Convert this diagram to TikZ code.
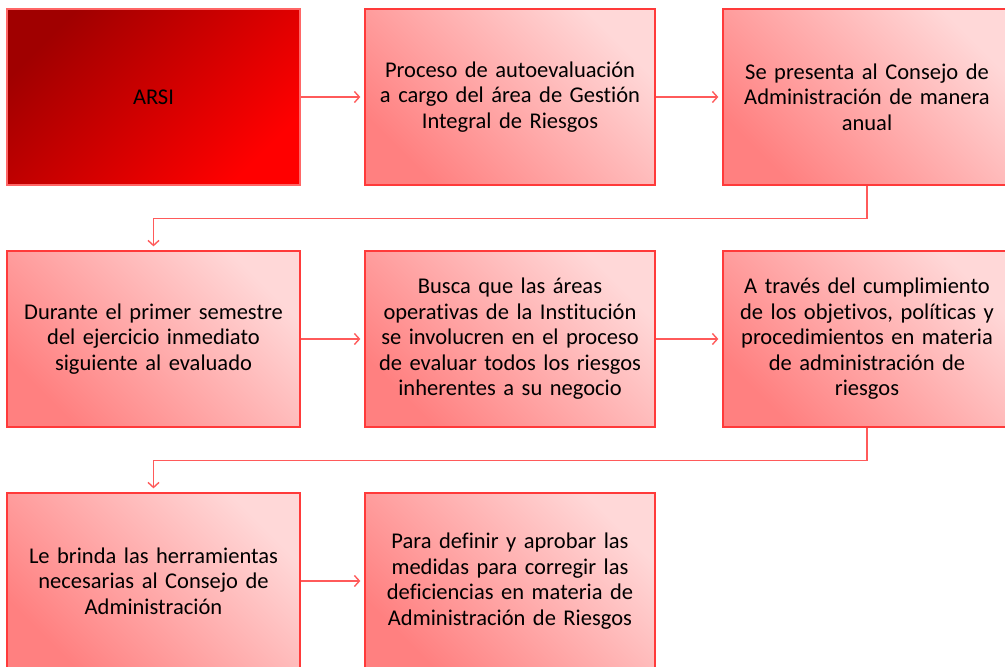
\documentclass[tikz,border=0pt]{standalone}
\usepackage{fontspec}
\setmainfont{Carlito}[Ligatures={NoCommon}]
\usetikzlibrary{arrows.meta}
\definecolor{bord}{HTML}{FF3A3A}
\definecolor{conncol}{HTML}{FF5A5A}
\definecolor{lightc}{HTML}{FFD8D8}
\definecolor{darkc}{HTML}{FF8080}
\definecolor{deepred}{HTML}{A00000}
\definecolor{brightred}{HTML}{FF0000}
\begin{document}
\begin{tikzpicture}[x=1pt,y=-1pt,
  basebox/.style={draw=bord, line width=1.3pt, minimum height=176pt, inner sep=0pt,
    align=center, text width=282pt, font=\fontsize{22.5}{25.5}\selectfont},
  pinkbox/.style={basebox, top color=lightc, bottom color=darkc, shading angle=-45},
  redbox/.style={basebox, draw=brightred!60, top color=deepred, bottom color=brightred, shading angle=45},
  conn/.style={draw=conncol, line width=1.4pt, -{Straight Barb[length=5pt,width=11pt]}, shorten >=4pt}
]
\useasboundingbox (0,0) rectangle (1005,667);
\node[redbox, minimum width=293pt] (a) at (153.5,97) {ARSI};
\node[pinkbox, minimum width=290pt] (b) at (510,97) {Proceso de autoevaluación\\a cargo del área de Gestión\\Integral de Riesgos};
\node[pinkbox, minimum width=288pt] (c) at (867,97) {Se presenta al Consejo de\\Administración de manera\\anual};
\node[pinkbox, minimum width=293pt] (d) at (153.5,339) {Durante el primer semestre\\del ejercicio inmediato\\siguiente al evaluado};
\node[pinkbox, minimum width=290pt] (e) at (510,339) {Busca que las áreas\\operativas de la Institución\\se involucren en el proceso\\de evaluar todos los riesgos\\inherentes a su negocio};
\node[pinkbox, minimum width=288pt] (f) at (867,339) {A través del cumplimiento\\de los objetivos, políticas y\\procedimientos en materia\\de administración de\\riesgos};
\node[pinkbox, minimum width=293pt] (g) at (153.5,581) {Le brinda las herramientas\\necesarias al Consejo de\\Administración};
\node[pinkbox, minimum width=290pt] (h) at (510,581) {Para definir y aprobar las\\medidas para corregir las\\deficiencias en materia de\\Administración de Riesgos};
\draw[conn] (a.east) -- (b.west);
\draw[conn] (b.east) -- (c.west);
\draw[conn] (c.south) -- ++(0,33) -| (d.north);
\draw[conn] (d.east) -- (e.west);
\draw[conn] (e.east) -- (f.west);
\draw[conn] (f.south) -- ++(0,33) -| (g.north);
\draw[conn] (g.east) -- (h.west);
\end{tikzpicture}
\end{document}
